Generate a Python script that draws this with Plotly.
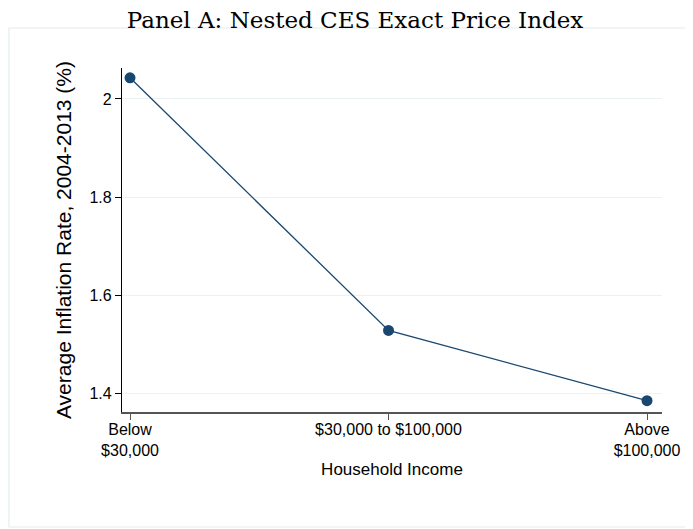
import plotly.graph_objects as go

income_groups = ["Below<br>$30,000", "$30,000 to $100,000", "Above<br>$100,000"]
inflation_rate = [2.043, 1.529, 1.386]
y_ticks = [1.4, 1.6, 1.8, 2.0]
y_tick_labels = ["1.4", "1.6", "1.8", "2"]

navy = "#1a476f"
positions = list(range(len(income_groups)))
sans = "Liberation Sans, Arial, sans-serif"

fig = go.Figure()
fig.add_trace(
    go.Scatter(
        x=positions,
        y=inflation_rate,
        mode="lines+markers",
        line=dict(color=navy, width=1.3),
        marker=dict(size=11, color=navy),
        showlegend=False,
    )
)

# outer light frame (Stata graph region)
fig.add_shape(
    type="rect", xref="paper", yref="paper",
    x0=-0.2093, x1=1.2, y0=-0.3343, y1=1.1163,
    line=dict(color="#e4ecee", width=1.2), fillcolor="rgba(0,0,0,0)", layer="below",
)

# page body keeps an 8px margin, so the figure is sized to fit the window
fig.update_layout(
    width=685,
    height=521,
    paper_bgcolor="white",
    plot_bgcolor="white",
    margin=dict(l=114, r=31, t=60, b=117),
    title=dict(
        text="Panel A: Nested CES Exact Price Index",
        x=0.5066, xanchor="center", y=0.978, yanchor="middle",
        font=dict(family="DejaVu Serif, serif", size=23, color="black"),
    ),
    font=dict(family=sans, size=16, color="black"),
    xaxis=dict(
        range=[-0.031, 2.058],
        tickvals=positions,
        ticktext=income_groups,
        ticks="outside", ticklen=6, tickcolor="#555555",
        ticklabelstandoff=-4,
        showline=True, linecolor="#555555", linewidth=1.5,
        showgrid=False, zeroline=False,
        tickfont=dict(size=16),
        title=dict(text="Household Income", font=dict(size=17), standoff=5),
    ),
    yaxis=dict(
        range=[1.363, 2.063],
        tickvals=y_ticks,
        ticktext=y_tick_labels,
        ticks="outside", ticklen=6, tickcolor="black",
        showline=True, linecolor="black", linewidth=1.2,
        showgrid=True, gridcolor="#eaf2f3", gridwidth=1.2,
        zeroline=False,
        tickfont=dict(size=16),
        title=dict(text="Average Inflation Rate, 2004-2013 (%)", font=dict(size=21), standoff=12),
    ),
)

fig.write_html("out.html")
